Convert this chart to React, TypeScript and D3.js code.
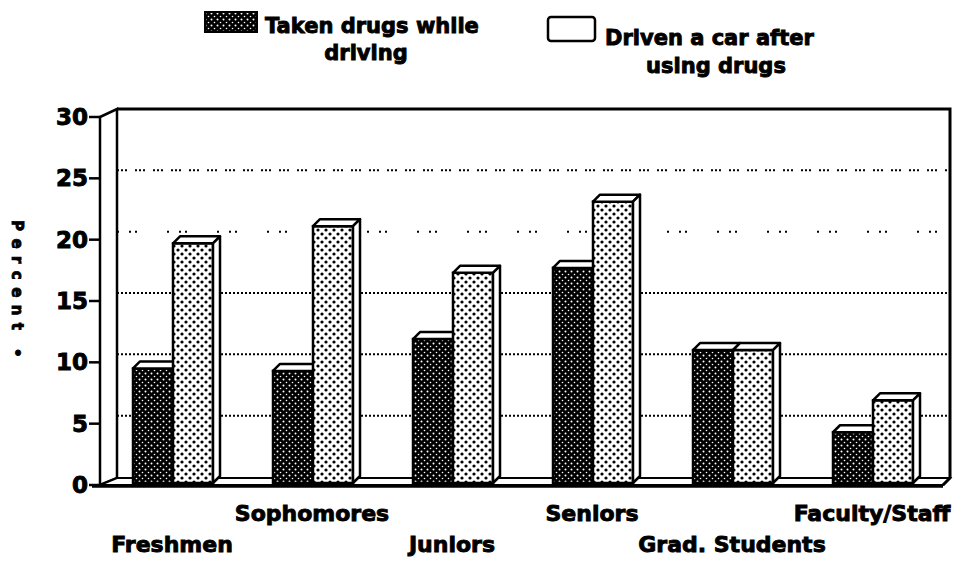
import React, { useRef, useEffect } from 'react';
import * as d3 from 'd3';

// categories along the floor
const categories = ['Freshmen', 'Sophomores', 'Juniors', 'Seniors', 'Grad. Students', 'Faculty/Staff'];
// series values (percent)
const takenWhileDriving = [9.5, 9.3, 11.9, 17.7, 11.0, 4.3];
const drivenAfterDrugs = [19.7, 21.1, 17.3, 23.1, 11.0, 6.9];
const seriesNames = ['Taken drugs while driving', 'Driven a car after using drugs'];
const yTicks = [0, 5, 10, 15, 20, 25, 30];

const FONT = '"DejaVu Sans", "Liberation Sans", sans-serif';

const App: React.FC = () => {
    const svgRef = useRef<SVGSVGElement | null>(null);
    const width = 960;
    const height = 561;

    useEffect(() => {
        const svg = d3.select(svgRef.current);
        svg.selectAll('*').remove();

        const depth = 7;
        const x0 = d3.scaleBand<string>().domain(categories).range([100, 940]);
        const x1 = d3.scaleBand<string>().domain(seriesNames).range([0, 80]);
        const y = d3.scaleLinear().domain([0, 30]).range([485, 117]);

        // heavy text helper (the original uses a very black face)
        const label = (sel: d3.Selection<SVGTextElement, unknown, null, undefined>, size: number) =>
            sel.style('font-family', FONT).style('font-weight', 'bold').style('font-size', `${size}px`)
                .attr('stroke', '#000').attr('stroke-width', 0.9).attr('paint-order', 'stroke');

        // patterns
        const defs = svg.append('defs');
        const dark = defs.append('pattern').attr('id', 'darkDots')
            .attr('patternUnits', 'userSpaceOnUse').attr('width', 6).attr('height', 6);
        dark.append('rect').attr('width', 6).attr('height', 6).attr('fill', '#000');
        dark.append('circle').attr('cx', 1.5).attr('cy', 1.5).attr('r', 1).attr('fill', '#fff');
        dark.append('circle').attr('cx', 4.5).attr('cy', 4.5).attr('r', 0.8).attr('fill', '#fff');

        const light = defs.append('pattern').attr('id', 'lightDots')
            .attr('patternUnits', 'userSpaceOnUse').attr('width', 8).attr('height', 8);
        light.append('rect').attr('width', 8).attr('height', 8).attr('fill', '#fff');
        light.append('circle').attr('cx', 2).attr('cy', 2).attr('r', 1.6).attr('fill', '#000');
        light.append('circle').attr('cx', 6).attr('cy', 6).attr('r', 1.6).attr('fill', '#000');

        const left = 100;
        const right = 943;
        const floorY = y(0);
        const topY = y(30);

        // back wall
        svg.append('rect')
            .attr('x', left + 17).attr('y', topY - 8)
            .attr('width', right + 7 - (left + 17)).attr('height', floorY - depth - (topY - 8))
            .attr('fill', '#fff');

        // gridlines on back wall
        const gridStyle: { [k: number]: string } = { 5: '2,2', 10: '2,2', 15: '2,2', 20: '2,10,2,4,2,30', 25: '2,2,2,2,2,8' };
        [5, 10, 15, 20, 25].forEach(v => {
            svg.append('line')
                .attr('x1', left + 17).attr('x2', right + 6)
                .attr('y1', y(v) - 8).attr('y2', y(v) - 8)
                .attr('stroke', '#000').attr('stroke-width', 2)
                .attr('stroke-dasharray', gridStyle[v]);
        });

        // left wall
        svg.append('path')
            .attr('d', `M${left},${topY} L${left + 17},${topY - 8} L${left + 17},${floorY - depth} L${left},${floorY} Z`)
            .attr('fill', '#fff').attr('stroke', '#000').attr('stroke-width', 2.5);

        // floor
        svg.append('path')
            .attr('d', `M${left},${floorY} L${left + 17},${floorY - depth} L${right + 7},${floorY - depth} L${right},${floorY} Z`)
            .attr('fill', '#fff').attr('stroke', '#000').attr('stroke-width', 2);
        svg.append('line')
            .attr('x1', left - 8).attr('x2', right).attr('y1', floorY + 1).attr('y2', floorY + 1)
            .attr('stroke', '#000').attr('stroke-width', 3.5);

        // top and right edges of frame
        svg.append('path')
            .attr('d', `M${left + 17},${topY - 8} L${right + 7},${topY - 8} L${right + 7},${floorY - depth} L${right},${floorY}`)
            .attr('fill', 'none').attr('stroke', '#000').attr('stroke-width', 3);

        // y ticks and labels
        yTicks.forEach(t => {
            svg.append('line')
                .attr('x1', left - 11).attr('x2', left).attr('y1', y(t)).attr('y2', y(t))
                .attr('stroke', '#000').attr('stroke-width', 2.5);
            label(svg.append('text')
                .attr('x', 88).attr('y', y(t) + 8)
                .attr('text-anchor', 'end'), 23)
                .text(t);
        });

        // y axis title
        label(svg.append('text')
            .attr('transform', 'translate(12,220) rotate(90)')
            .attr('textLength', 110).attr('lengthAdjust', 'spacing'), 15)
            .text('Percent');
        label(svg.append('text')
            .attr('x', 18).attr('y', 359).attr('text-anchor', 'middle'), 15)
            .text('•');

        // 3D bars
        const drawBar = (bx: number, v: number, w: number, fill: string) => {
            const top = y(v);
            const g = svg.append('g');
            g.append('rect')
                .attr('x', bx).attr('y', top).attr('width', w).attr('height', floorY - 2 - top)
                .attr('fill', fill).attr('stroke', '#000').attr('stroke-width', 2.5);
            g.append('path')
                .attr('d', `M${bx},${top} L${bx + depth},${top - depth} L${bx + w + depth},${top - depth} L${bx + w},${top} Z`)
                .attr('fill', '#fff').attr('stroke', '#000').attr('stroke-width', 2.5).attr('stroke-linejoin', 'round');
            g.append('path')
                .attr('d', `M${bx + w},${top} L${bx + w + depth},${top - depth} L${bx + w + depth},${floorY - 2 - depth} L${bx + w},${floorY - 2} Z`)
                .attr('fill', '#fff').attr('stroke', '#000').attr('stroke-width', 2.5).attr('stroke-linejoin', 'round');
        };

        categories.forEach((c, i) => {
            const gx = (x0(c) as number) + 33;
            drawBar(gx + (x1(seriesNames[0]) as number), takenWhileDriving[i], x1.bandwidth(), 'url(#darkDots)');
            drawBar(gx + (x1(seriesNames[1]) as number), drivenAfterDrugs[i], x1.bandwidth(), 'url(#lightDots)');
        });

        // category labels, staggered in two rows
        categories.forEach((c, i) => {
            label(svg.append('text')
                .attr('x', (x0(c) as number) + x0.bandwidth() / 2 + 2)
                .attr('y', i % 2 === 0 ? 552 : 521)
                .attr('text-anchor', 'middle'), 22)
                .text(c);
        });

        // legend
        svg.append('rect')
            .attr('x', 205).attr('y', 12).attr('width', 52).attr('height', 20)
            .attr('fill', 'url(#darkDots)').attr('stroke', '#000').attr('stroke-width', 2);
        label(svg.append('text').attr('x', 265).attr('y', 33), 21)
            .text('Taken drugs while');
        label(svg.append('text').attr('x', 366).attr('y', 60).attr('text-anchor', 'middle'), 21)
            .text('driving');

        svg.append('rect')
            .attr('x', 548).attr('y', 17).attr('width', 47).attr('height', 24).attr('rx', 3)
            .attr('fill', '#fff').attr('stroke', '#000').attr('stroke-width', 2.5);
        label(svg.append('text').attr('x', 605).attr('y', 45), 21)
            .text('Driven a car after');
        label(svg.append('text').attr('x', 716).attr('y', 73).attr('text-anchor', 'middle'), 21)
            .text('using drugs');
    }, []);

    return (
        <svg ref={svgRef} width={width} height={height}
            style={{ position: 'absolute', left: 0, top: 0, background: '#fff' }} />
    );
};

export default App;
